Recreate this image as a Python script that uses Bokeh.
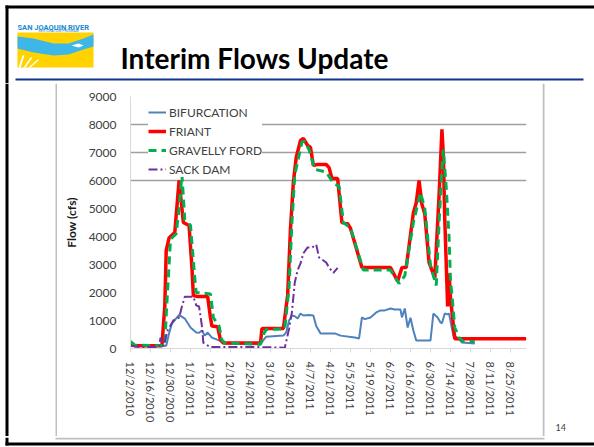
from datetime import datetime, timedelta
import pandas as pd
from bokeh.plotting import figure
from bokeh.layouts import column, row
from bokeh.models import Range1d, FixedTicker, ColumnDataSource, DatetimeTickFormatter
from bokeh.core.properties import value
from bokeh.embed import file_html
from bokeh.resources import INLINE

FONT = "Lato"

# ---------------- data ----------------
tick_labels = ["12/2/2010", "12/16/2010", "12/30/2010", "1/13/2011", "1/27/2011",
               "2/10/2011", "2/24/2011", "3/10/2011", "3/24/2011", "4/7/2011",
               "4/21/2011", "5/5/2011", "5/19/2011", "6/2/2011", "6/16/2011",
               "6/30/2011", "7/14/2011", "7/28/2011", "8/11/2011", "8/25/2011"]
y_ticks = [0, 1000, 2000, 3000, 4000, 5000, 6000, 7000, 8000, 9000]
grid_levels = [6000, 7000, 8000]

bif_dates = ["2010-12-02", "2010-12-05", "2010-12-27", "2010-12-29", "2010-12-31",
             "2011-01-05", "2011-01-09", "2011-01-13", "2011-01-17", "2011-01-19",
             "2011-01-21", "2011-01-23", "2011-01-25", "2011-01-28", "2011-02-02",
             "2011-02-06", "2011-03-03", "2011-03-05", "2011-03-07", "2011-03-19",
             "2011-03-21", "2011-03-23", "2011-03-25", "2011-03-27", "2011-03-29",
             "2011-03-31", "2011-04-02", "2011-04-06", "2011-04-09", "2011-04-11",
             "2011-04-14", "2011-04-24", "2011-04-28", "2011-05-08", "2011-05-11",
             "2011-05-13", "2011-05-15", "2011-05-19", "2011-05-23", "2011-05-26",
             "2011-05-29", "2011-06-02", "2011-06-05", "2011-06-09", "2011-06-10",
             "2011-06-12", "2011-06-14", "2011-06-16", "2011-06-18", "2011-06-20",
             "2011-06-30", "2011-07-02", "2011-07-05", "2011-07-07", "2011-07-08",
             "2011-07-10", "2011-07-12", "2011-07-13", "2011-07-15", "2011-07-16",
             "2011-07-19", "2011-07-22", "2011-07-31"]
bif_flow = [180, 100, 100, 540, 890,
            1200, 1070, 750, 570, 560,
            640, 460, 570, 390, 290,
            180, 150, 300, 420, 460,
            570, 1000, 1180, 1150, 1070,
            1250, 1180, 1200, 1180, 800,
            540, 540, 460, 390, 360,
            1110, 1050, 1110, 1290, 1360,
            1360, 1430, 1390, 1390, 1110,
            1430, 750, 1100, 640, 290,
            290, 1250, 1110, 930, 900,
            1250, 1220, 1250, 710, 460,
            390, 210, 180]

friant_dates = ["2010-12-02", "2010-12-05", "2010-12-24", "2010-12-26", "2010-12-27",
                "2010-12-29", "2010-12-30", "2011-01-02", "2011-01-05", "2011-01-08",
                "2011-01-12", "2011-01-14", "2011-01-15", "2011-01-18", "2011-01-25",
                "2011-01-27", "2011-01-28", "2011-02-01", "2011-02-03", "2011-02-05",
                "2011-03-03", "2011-03-04", "2011-03-19", "2011-03-22", "2011-03-24",
                "2011-03-26", "2011-03-28", "2011-03-31", "2011-04-02", "2011-04-05",
                "2011-04-07", "2011-04-09", "2011-04-12", "2011-04-18", "2011-04-20",
                "2011-04-22", "2011-04-26", "2011-04-29", "2011-05-03", "2011-05-05",
                "2011-05-13", "2011-06-02", "2011-06-07", "2011-06-10", "2011-06-13",
                "2011-06-18", "2011-06-20", "2011-06-22", "2011-06-24", "2011-06-26",
                "2011-06-29", "2011-07-03", "2011-07-06", "2011-07-08", "2011-07-09",
                "2011-07-10", "2011-07-12", "2011-07-13", "2011-07-14", "2011-07-17",
                "2011-09-05"]
friant_flow = [150, 100, 100, 1500, 3500,
               3950, 4000, 4140, 6000, 4500,
               4390, 2900, 1890, 1860, 1860,
               1100, 800, 780, 300, 200,
               200, 710, 710, 1900, 4290,
               5930, 6820, 7430, 7500, 7250,
               7180, 6540, 6570, 6570, 6460,
               6070, 6070, 4500, 4460, 4290,
               2890, 2890, 2400, 2890, 2890,
               4840, 5200, 6000, 5150, 4800,
               3070, 2520, 5460, 7830, 6900,
               4600, 1500, 2680, 1800, 350,
               350]

gf_dates = ["2010-12-02", "2010-12-05", "2010-12-26", "2010-12-27", "2010-12-29",
            "2010-12-30", "2011-01-03", "2011-01-05", "2011-01-07", "2011-01-09",
            "2011-01-13", "2011-01-16", "2011-01-17", "2011-01-27", "2011-01-29",
            "2011-02-02", "2011-02-04", "2011-02-06", "2011-03-03", "2011-03-05",
            "2011-03-07", "2011-03-20", "2011-03-23", "2011-03-25", "2011-03-27",
            "2011-03-30", "2011-04-01", "2011-04-03", "2011-04-06", "2011-04-10",
            "2011-04-18", "2011-04-23", "2011-04-27", "2011-04-30", "2011-05-05",
            "2011-05-14", "2011-06-02", "2011-06-08", "2011-06-12", "2011-06-18",
            "2011-06-23", "2011-06-26", "2011-06-30", "2011-07-04", "2011-07-06",
            "2011-07-08", "2011-07-09", "2011-07-11", "2011-07-13", "2011-07-14",
            "2011-07-15", "2011-07-17", "2011-07-20", "2011-07-23", "2011-07-31"]
gf_flow = [250, 120, 100, 1200, 3000,
           3900, 4100, 5000, 6200, 4600,
           4400, 2500, 2000, 1950, 1100,
           800, 300, 200, 150, 500,
           680, 700, 2200, 4500, 6200,
           6900, 7380, 7400, 7100, 6400,
           6300, 5900, 5800, 4500, 4300,
           2800, 2800, 2320, 2600, 4500,
           5570, 5000, 2960, 2250, 4500,
           6400, 7100, 5750, 3960, 2430,
           1900, 750, 390, 250, 250]

sack_dates = ["2010-12-02", "2010-12-09", "2010-12-22", "2010-12-23", "2010-12-25",
              "2010-12-28", "2011-01-01", "2011-01-05", "2011-01-07", "2011-01-09",
              "2011-01-15", "2011-01-17", "2011-01-19", "2011-01-21", "2011-01-22",
              "2011-01-27", "2011-03-03", "2011-03-20", "2011-03-23", "2011-03-25",
              "2011-03-27", "2011-03-29", "2011-03-31", "2011-04-02", "2011-04-05",
              "2011-04-08", "2011-04-11", "2011-04-13", "2011-04-18", "2011-04-20",
              "2011-04-23", "2011-04-26"]
sack_flow = [100, 50, 50, 390, 80,
             640, 1000, 1100, 1500, 1850,
             1850, 1540, 1500, 800, 200,
             50, 50, 30, 700, 1300,
             2360, 2800, 3040, 3400, 3610,
             3600, 3710, 3250, 3070, 2890,
             2700, 2880]

# ---------------- page geometry (pixels) ----------------
W, H = 594, 447
HEAD_H = 83          # header band height
FOOT_Y = 436         # footer band starts here
LEFT_W = 57          # left strip width
RIGHT_X = 542        # right strip starts here
FL, FT, FR, FB = 130, 96, 526, 348   # chart frame edges on the page


def deco_fig(x0, x1, y0, y1):
    """A blank figure whose data coordinates are page pixels."""
    f = figure(width=x1 - x0, height=y1 - y0,
               x_range=Range1d(x0, x1), y_range=Range1d(y1, y0),
               x_axis_location=None, y_axis_location=None,
               output_backend="svg", toolbar_location=None,
               min_border=0, min_border_left=0, min_border_right=0,
               min_border_top=0, min_border_bottom=0)
    f.frame_align = False
    f.outline_line_color = None
    f.background_fill_color = "white"
    f.border_fill_color = "white"
    f.grid.visible = False
    return f


def rect(f, l, t, r, b, color):
    f.quad(left=[l], right=[r], top=[t], bottom=[b], fill_color=color,
           line_color=None)


# ---------------- header ----------------
head = deco_fig(0, W, 0, HEAD_H)
rect(head, 5, 5, W, 8, "black")          # slide top border
rect(head, 5, 5, 8, HEAD_H, "black")     # slide left border
rect(head, 15, 78, 583, 80, "#10378C")   # header rule
# logo
rect(head, 17, 32, 93, 67, "#FFD200")
head.patch([17, 33, 53, 68, 83, 93, 93, 83, 68, 53, 33, 17],
           [36, 38, 43, 43, 38, 34, 46, 49, 54, 55, 52, 48],
           fill_color="#3DB6E8", line_color=None)
head.patch([71, 78, 83, 78, 71], [45, 43, 45, 47, 45], fill_color="white", line_color=None)
head.patches([[18, 20, 24, 22], [23, 25, 32, 30], [28, 30, 39, 37]],
             [[67, 67, 55, 55], [67, 67, 57, 57], [67, 67, 59, 59]],
             fill_color="white", line_color=None)
head.text(x=[17], y=[27], text=["SAN JOAQUIN RIVER"],
          text_font=value("Roboto"), text_font_size="7.5px",
          text_font_style="bold", text_color="#1B8BD0", text_baseline="alphabetic")
head.text(x=[38], y=[30.5], text=["RESTORATION PROGRAM"],
          text_font=value("Roboto"), text_font_size="3.5px",
          text_color="#1B8BD0", text_baseline="alphabetic")
head.text(x=[120], y=[57], text=["Interim Flows Update"],
          text_font=value(FONT), text_font_size="28px", text_font_style="bold",
          text_color="black", text_baseline="alphabetic")

# ---------------- left / right strips ----------------
left = deco_fig(0, LEFT_W, HEAD_H, FOOT_Y)
rect(left, 5, HEAD_H, 8, FOOT_Y, "black")
rect(left, 55, HEAD_H, 57, FOOT_Y, "#BFBFBF")

right = deco_fig(RIGHT_X, W, HEAD_H, FOOT_Y)
rect(right, 542, HEAD_H, 544, FOOT_Y, "#BFBFBF")
right.text(x=[555], y=[427], text=["14"], text_font=value(FONT),
           text_font_size="9px", text_color="#404040", text_baseline="middle")

# ---------------- footer ----------------
foot = deco_fig(0, W, FOOT_Y, H)
rect(foot, 5, FOOT_Y, 8, 444, "black")
rect(foot, 55, 436, 544, 438, "#BFBFBF")
rect(foot, 5, 441, W, 444, "black")

# ---------------- chart ----------------
x_start = datetime(2010, 12, 2)
x_end = x_start + timedelta(days=277.2)

p = figure(width=RIGHT_X - LEFT_W, height=FOOT_Y - HEAD_H, x_axis_type="datetime",
           x_range=Range1d(x_start, x_end), y_range=Range1d(0, 9000),
           output_backend="svg", toolbar_location=None,
           min_border_left=FL - LEFT_W, min_border_right=RIGHT_X - FR,
           min_border_top=FT - HEAD_H, min_border_bottom=FOOT_Y - FB)
p.frame_align = False
p.outline_line_color = None
p.background_fill_color = "white"
p.border_fill_color = "white"

tick_dt = [datetime.strptime(s, "%m/%d/%Y") for s in tick_labels]
tick_ms = [(d - datetime(1970, 1, 1)).total_seconds() * 1000.0 for d in tick_dt]
p.xaxis.ticker = FixedTicker(ticks=tick_ms)
p.xaxis.formatter = DatetimeTickFormatter(days="%m/%d/%Y", months="%m/%d/%Y")
p.xaxis.major_label_overrides = {ms: lab for ms, lab in zip(tick_ms, tick_labels)}
p.xaxis.major_label_orientation = "vertical"
p.xaxis.major_label_text_font = FONT
p.xaxis.major_label_text_font_size = "11px"
p.xaxis.major_label_text_color = "#404040"
p.xaxis.major_label_standoff = 9
p.xaxis.axis_line_color = "#D9D9D9"
p.xaxis.major_tick_line_color = "#D9D9D9"
p.xaxis.major_tick_out = 4
p.xaxis.major_tick_in = 0
p.xaxis.minor_tick_line_color = None

p.yaxis.ticker = FixedTicker(ticks=y_ticks)
p.yaxis.major_label_text_font = FONT
p.yaxis.major_label_text_font_size = "12px"
p.yaxis.major_label_text_color = "#404040"
p.yaxis.major_tick_out = 0
p.yaxis.major_tick_in = 0
p.yaxis.minor_tick_line_color = None
p.yaxis.major_label_standoff = 14
p.yaxis.axis_line_color = "#D9D9D9"
p.yaxis.axis_label = "Flow (cfs)"
p.yaxis.axis_label_text_font = FONT
p.yaxis.axis_label_text_font_size = "12px"
p.yaxis.axis_label_text_font_style = "bold"
p.yaxis.axis_label_text_color = "#1a1a1a"
p.yaxis.axis_label_standoff = 7

p.xgrid.visible = False
p.ygrid.ticker = FixedTicker(ticks=grid_levels)
p.ygrid.grid_line_color = "#A0A0A0"
p.ygrid.grid_line_width = 1.5


def src(d, v):
    return ColumnDataSource(dict(d=pd.to_datetime(d), v=v))


p.line("d", "v", source=src(bif_dates, bif_flow), line_color="#4F81BD",
       line_width=2, legend_label="BIFURCATION")
p.line("d", "v", source=src(friant_dates, friant_flow), line_color="#FF0000",
       line_width=3.5, legend_label="FRIANT")
p.line("d", "v", source=src(gf_dates, gf_flow), line_color="#00B050",
       line_width=3, line_dash="8 5", legend_label="GRAVELLY FORD")
p.line("d", "v", source=src(sack_dates, sack_flow), line_color="#7030A0",
       line_width=2, line_dash="9 3 2 3", legend_label="SACK DAM")

lg = p.legend[0]
lg.location = (18, 171)
lg.margin = 0
lg.padding = 4
lg.spacing = 3
lg.label_height = 16
lg.glyph_height = 16
lg.glyph_width = 18
lg.label_standoff = 3
lg.border_line_color = None
lg.background_fill_color = "white"
lg.background_fill_alpha = 1.0
lg.label_text_font = FONT
lg.label_text_font_size = "12px"
lg.label_text_color = "#404040"

page = column(head, row(left, p, right), foot)

open("out.html", "w").write(file_html(page, INLINE))
